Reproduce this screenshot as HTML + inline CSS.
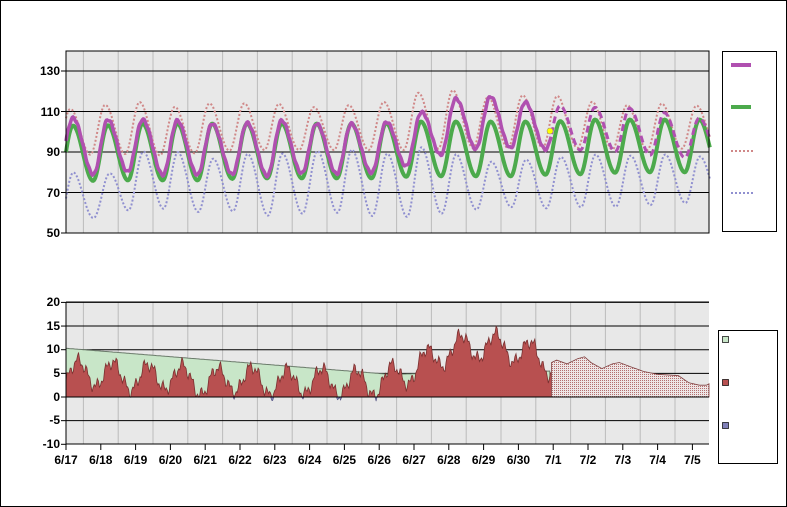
<!DOCTYPE html>
<html><head><meta charset="utf-8"><style>
body{margin:0;background:#fff}
#w{position:relative;width:787px;height:507px;overflow:hidden}
svg text{font-family:"Liberation Sans",Arial,sans-serif;font-weight:bold;font-size:12px;fill:#000}
</style></head><body><div id="w">
<svg id="s" width="787" height="507" xmlns="http://www.w3.org/2000/svg">
<rect x="0.5" y="0.5" width="786" height="506" fill="#fff" stroke="#000"/>
<rect x="66" y="51" width="643" height="182" fill="#e8e8e8"/>
<rect x="66" y="302" width="643" height="142" fill="#e8e8e8"/>
<g id="grid"></g>
<g id="top"></g>
<g id="bot"></g>
<g id="axes"></g>
<g font-size="12">
<text x="60" y="75" text-anchor="end">130</text>
<text x="60" y="116" text-anchor="end">110</text>
<text x="60" y="156" text-anchor="end">90</text>
<text x="60" y="197" text-anchor="end">70</text>
<text x="60" y="237" text-anchor="end">50</text>
<text x="60" y="306" text-anchor="end">20</text>
<text x="60" y="330" text-anchor="end">15</text>
<text x="60" y="353" text-anchor="end">10</text>
<text x="60" y="377" text-anchor="end">5</text>
<text x="60" y="401" text-anchor="end">0</text>
<text x="60" y="424" text-anchor="end">-5</text>
<text x="60" y="448" text-anchor="end">-10</text>
</g>
<g id="xl" font-size="11"></g>
<rect x="722.5" y="51.5" width="54" height="180" fill="#fff" stroke="#000"/>
<line x1="731" y1="65" x2="751" y2="65" stroke="#b050b0" stroke-width="4"/>
<line x1="731" y1="107" x2="751" y2="107" stroke="#4caa4c" stroke-width="4"/>
<line x1="731" y1="151" x2="755" y2="151" stroke="#d08888" stroke-width="2" stroke-dasharray="2,2"/>
<line x1="731" y1="193" x2="755" y2="193" stroke="#9090d0" stroke-width="2" stroke-dasharray="2,2"/>
<rect x="718.5" y="330.5" width="59" height="133" fill="#fff" stroke="#000"/>
<rect x="722.5" y="336.5" width="6" height="6" fill="#c8e6c8" stroke="#000" stroke-width="0.7"/>
<rect x="722.5" y="379.5" width="6" height="6" fill="#b85050" stroke="#000" stroke-width="0.7"/>
<rect x="722.5" y="422.5" width="6" height="6" fill="#8080b8" stroke="#000" stroke-width="0.7"/>
<defs><pattern id="h" width="2" height="2" patternUnits="userSpaceOnUse"><rect width="2" height="2" fill="#f2e4e4"/><rect width="1" height="1" fill="#b07070"/><rect x="1" y="1" width="1" height="1" fill="#e8e8e8"/></pattern></defs>
</svg></div>
<script>
var NS="http://www.w3.org/2000/svg";
function el(p,t,a){var e=document.createElementNS(NS,t);for(var k in a)e.setAttribute(k,a[k]);document.getElementById(p).appendChild(e);return e;}
var X0=66,DW=34.8,R=709;
function X(t){return X0+DW*t;}
function YT(v){return 233-(v-50)*40.5/20;}
function YB(v){return 397-v*4.73;}
for(var i=0;i<19;i++){var x=X(i+0.5);if(x<R){el("grid","line",{x1:x,y1:51,x2:x,y2:233,stroke:"#bbb"});el("grid","line",{x1:x,y1:302,x2:x,y2:444,stroke:"#bbb"});}}
[130,110,90,70].forEach(function(v){el("grid","line",{x1:66,y1:YT(v),x2:R,y2:YT(v),stroke:"#000"});});
[20,15,10,5,-5].forEach(function(v){el("grid","line",{x1:66,y1:YB(v),x2:R,y2:YB(v),stroke:"#000"});});
function wave(t,pk,lo,hi){var p=((t-pk)%1+1)%1;var f;if(p<0.58){f=(1+Math.cos(Math.PI*p/0.58))/2;}else{f=(1-Math.cos(Math.PI*(p-0.58)/0.42))/2;}return lo+(hi-lo)*f;}
function interp(arr,t){var i=Math.floor(t);if(i<0)i=0;if(i>=arr.length-1)return arr[arr.length-1];var f=t-i;return arr[i]*(1-f)+arr[i+1]*f;}
var N=18.5,step=0.02;
function path(fn,t0,t1){var d="";for(var t=t0;t<=t1+1e-9;t+=step){d+=(d?"L":"M")+X(t).toFixed(1)+","+YT(fn(t)).toFixed(1);}return d;}
var gHi=[103,103,104,104,104,104,104,104,104,104,105,105,105,105,105,106,106,106,106,106];
var gLo=[75,76,76,76,76,77,77,77,77,77,78,78,78,78,79,79,80,80,80,80];
function green(t){return wave(t,0.2,interp(gLo,t),interp(gHi,t));}
var rHi=[111,113,115,112,114,114,114,112,113,114,119,121,117,118,118,115,113,114,113,112];
var rLo=[88,89,89,88,90,91,91,91,91,91,91,92,92,92,92,92,91,91,92,92];
function red(t){return wave(t,0.12,interp(rLo,t),interp(rHi,t));}
var bHi=[81,76,90,91,86,89,89,90,92,88,93,90,85,86,87,89,88,89,88,87];
var bLo=[55,58,62,62,60,61,58,60,60,58,58,60,62,63,62,63,63,64,65,65];
function blue(t){return wave(t,0.22,interp(bLo,t),interp(bHi,t));}
var aHi=[107,106,106,106,104,104,106,104,104,104,108,116,118,115,113,112,112,110,107,106];
var aLo=[82,78,81,78,79,79,78,80,79,80,84,90,92,92,91,91,90,88,87,88];
function act(t){return wave(t,0.2,interp(aLo,t),interp(aHi,t))+0.5*Math.sin(t*40);}
el("top","path",{d:path(red,0,N),fill:"none",stroke:"#d08888","stroke-width":2,"stroke-dasharray":"2,2"});
el("top","path",{d:path(blue,0,N),fill:"none",stroke:"#9090d0","stroke-width":2,"stroke-dasharray":"2,2"});
el("top","path",{d:path(green,0,N),fill:"none",stroke:"#4caa4c","stroke-width":4});
el("top","path",{d:path(act,0,13.95),fill:"none",stroke:"#b050b0","stroke-width":3.5});
el("top","path",{d:path(function(t){return wave(t,0.2,interp(aLo,t),interp(aHi,t));},13.95,N),fill:"none",stroke:"#b050b0","stroke-width":3,"stroke-dasharray":"7,4"});
el("top","circle",{cx:550,cy:131,r:3,fill:"#ffff00",stroke:"#888","stroke-width":0.5});
function gl(t){return t<9.3?10.3-5.5*t/9.3:4.8+0.7*(t-9.3)/4.65;}
var T1=13.95;
var dg="M"+X(0)+","+YB(0);for(var t=0;t<=T1;t+=0.05)dg+="L"+X(t).toFixed(1)+","+YB(gl(t)).toFixed(1);dg+="L"+X(T1)+","+YB(0)+"Z";
el("bot","path",{d:dg,fill:"#c8e6c8",stroke:"#6a7a6a","stroke-width":1});
var base=[5,5,4,4.5,3,4,3,3.5,3,3,6,10,11,10,7];
var dr="M"+X(0)+","+YB(0);var pts=[];
for(var t=0;t<=T1;t+=0.03){var v=interp(base,t)+2.8*Math.sin(2*Math.PI*(t-0.1))+1.0*Math.sin(t*23)+0.7*Math.sin(t*57);pts.push([t,v]);}
pts.forEach(function(p){dr+="L"+X(p[0]).toFixed(1)+","+YB(Math.max(0,p[1])).toFixed(1);});
dr+="L"+X(T1)+","+YB(0)+"Z";
el("bot","path",{d:dr,fill:"#b85050",stroke:"#7a3030","stroke-width":0.8});
var dn="M"+X(0)+","+YB(0);pts.forEach(function(p){dn+="L"+X(p[0]).toFixed(1)+","+YB(Math.min(0,p[1])).toFixed(1);});dn+="L"+X(T1)+","+YB(0)+"Z";
el("bot","path",{d:dn,fill:"#8080b8",stroke:"#505080","stroke-width":0.6});
el("bot","line",{x1:X(0),y1:YB(gl(0)),x2:X(T1),y2:YB(gl(T1)),stroke:"none"});
var fc=[[13.95,7.3],[14.1,7.8],[14.4,7],[14.7,8.1],[14.9,8.5],[15.1,7.2],[15.4,6],[15.7,7],[15.9,7.3],[16.3,6.2],[16.6,5.4],[17,4.8],[17.4,4.6],[17.6,4.5],[17.9,3],[18.2,2.5],[18.4,2.5],[18.5,2.8]];
var dh="M"+X(T1)+","+YB(0);fc.forEach(function(p){dh+="L"+Math.min(R,X(p[0])).toFixed(1)+","+YB(p[1]).toFixed(1);});dh+="L"+R+","+YB(0)+"Z";
el("bot","path",{d:dh,fill:"url(#h)",stroke:"#804040","stroke-width":0.8});
el("bot","line",{x1:66,y1:YB(0),x2:R,y2:YB(0),stroke:"#000"});
el("axes","rect",{x:66,y:51,width:643,height:182,fill:"none",stroke:"#000"});
el("axes","line",{x1:66,y1:302,x2:R,y2:302,stroke:"#000"});
el("axes","line",{x1:66,y1:302,x2:66,y2:450,stroke:"#000"});
el("axes","line",{x1:66,y1:444,x2:R,y2:444,stroke:"#000"});
[130,110,90,70,50].forEach(function(v){el("axes","line",{x1:61,y1:YT(v),x2:66,y2:YT(v),stroke:"#000"});});
[20,15,10,5,0,-5,-10].forEach(function(v){el("axes","line",{x1:61,y1:YB(v),x2:66,y2:YB(v),stroke:"#000"});});
var labs=["6/17","6/18","6/19","6/20","6/21","6/22","6/23","6/24","6/25","6/26","6/27","6/28","6/29","6/30","7/1","7/2","7/3","7/4","7/5"];
labs.forEach(function(l,i){var x=X(i);el("axes","line",{x1:x,y1:444,x2:x,y2:450,stroke:"#000"});var tx=el("xl","text",{x:x,y:464,"text-anchor":"middle"});tx.textContent=l;});
</script>
</body></html>
